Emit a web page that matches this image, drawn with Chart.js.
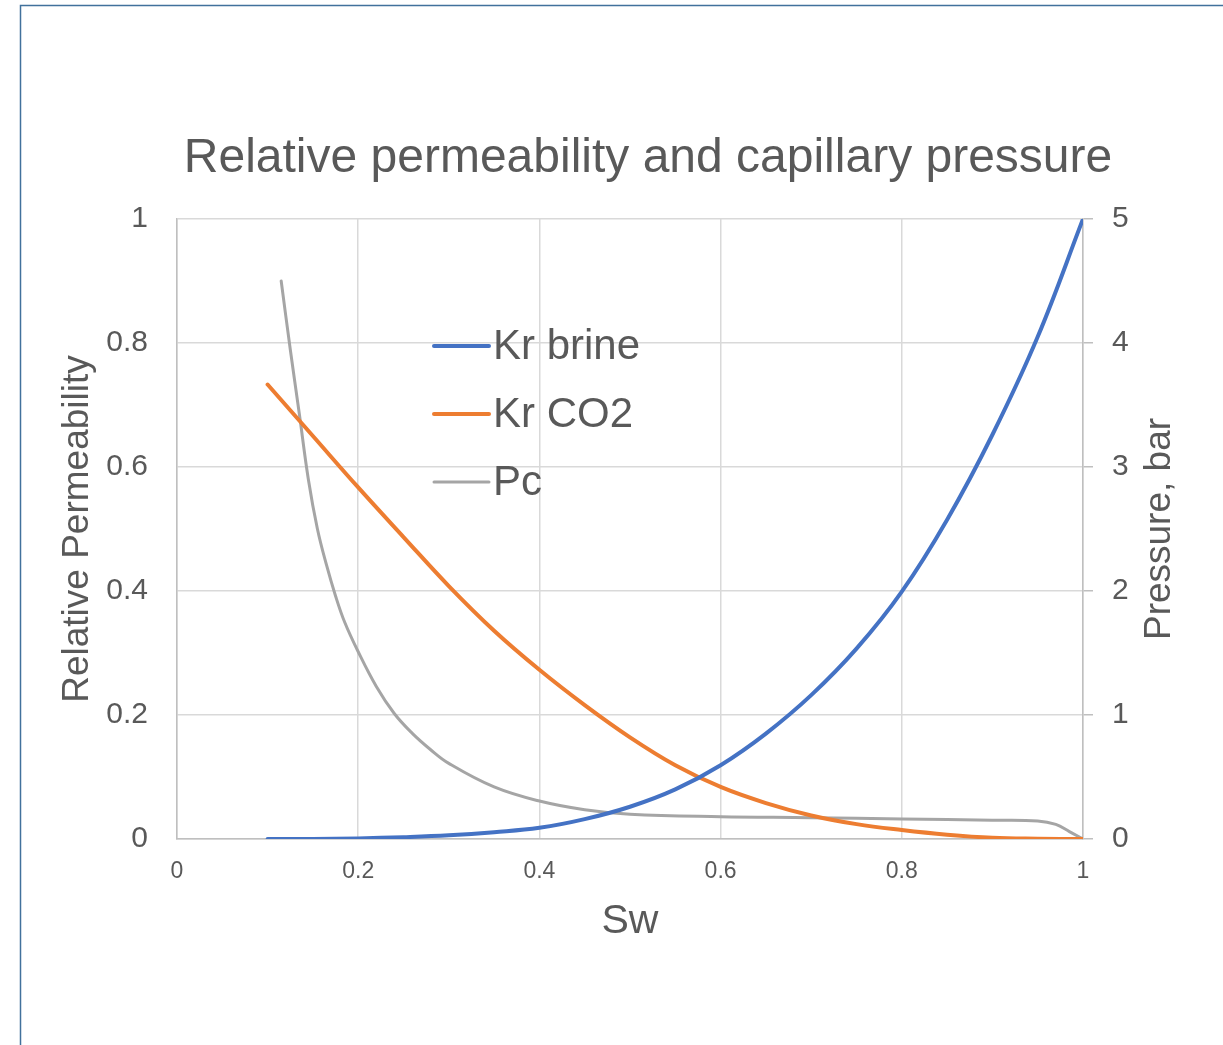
<!DOCTYPE html>
<html>
<head>
    <title>Relative permeability and capillary pressure</title>
    <script src="https://cdn.jsdelivr.net/npm/chart.js@4.4.0/dist/chart.umd.min.js"></script>
    <style>body { margin: 0; background: #fff; }</style>
</head>
<body>
    <canvas id="myChart" width="1223" height="1045"></canvas>
    <script>
        // saturation points for the two Kr curves
        var swKr = [0.1, 0.15, 0.2, 0.25, 0.3, 0.35, 0.4, 0.45, 0.5, 0.55, 0.6, 0.65, 0.7, 0.75, 0.8, 0.85, 0.9, 0.95, 1.0];
        var krBrine = [0, 0.0001, 0.001, 0.003, 0.006, 0.011, 0.018, 0.032, 0.052, 0.08, 0.119, 0.17, 0.232, 0.307, 0.399, 0.515, 0.652, 0.81, 1.0];
        var krCO2 = [0.733, 0.65, 0.567, 0.487, 0.408, 0.336, 0.273, 0.216, 0.164, 0.119, 0.084, 0.058, 0.038, 0.024, 0.0145, 0.007, 0.002, 0.0005, 0];

        // capillary pressure, bar
        var swPc = [0.115, 0.125, 0.135, 0.145, 0.155, 0.165, 0.175, 0.185, 0.2, 0.22, 0.24, 0.26, 0.28, 0.3, 0.35, 0.4, 0.45, 0.5, 0.6, 0.7, 0.8, 0.9, 0.95, 0.97, 0.985, 1.0];
        var pc = [4.5, 3.95, 3.43, 2.9, 2.5, 2.21, 1.96, 1.75, 1.51, 1.23, 1.01, 0.85, 0.72, 0.61, 0.42, 0.306, 0.236, 0.2, 0.18, 0.172, 0.161, 0.152, 0.146, 0.118, 0.06, 0];

        var xTicks = ['0', '0.2', '0.4', '0.6', '0.8', '1'];
        var leftTicks = ['0', '0.2', '0.4', '0.6', '0.8', '1'];
        var rightTicks = ['0', '1', '2', '3', '4', '5'];

        var FONT = '"Liberation Sans", Arial, sans-serif';
        var TEXT = '#595959';
        Chart.defaults.font.family = FONT;
        Chart.defaults.color = TEXT;

        function pts(xs, ys) {
            return xs.map(function(x, i) { return {x: x, y: ys[i]}; });
        }

        // outer frame, title, right axis title and the legend inside the plot
        var extras = {
            id: 'extras',
            beforeDraw: function(chart) {
                var ctx = chart.ctx;
                ctx.save();
                ctx.strokeStyle = '#41719C';
                ctx.lineWidth = 1.5;
                ctx.beginPath();
                ctx.moveTo(20.5, 1045);
                ctx.lineTo(20.5, 5.5);
                ctx.lineTo(1223, 5.5);
                ctx.stroke();
                ctx.restore();
            },
            afterDraw: function(chart) {
                var ctx = chart.ctx;
                var a = chart.chartArea;
                ctx.save();
                ctx.fillStyle = TEXT;
                ctx.textBaseline = 'middle';

                ctx.font = '48px ' + FONT;
                ctx.textAlign = 'center';
                ctx.fillText('Relative permeability and capillary pressure', a.left + 471, a.top - 60);

                ctx.font = '37px ' + FONT;
                ctx.translate(a.right + 77, (a.top + a.bottom) / 2);
                ctx.rotate(-Math.PI / 2);
                ctx.fillText('Pressure, bar', 0, 0);
                ctx.restore();

                ctx.save();
                ctx.font = '42px ' + FONT;
                ctx.textAlign = 'left';
                ctx.textBaseline = 'middle';
                chart.data.datasets.forEach(function(ds, i) {
                    var y = a.top + 127 + i * 68;
                    var x = a.left + 257;
                    ctx.strokeStyle = ds.borderColor;
                    ctx.lineWidth = ds.borderWidth;
                    ctx.lineCap = 'round';
                    ctx.beginPath();
                    ctx.moveTo(x, y);
                    ctx.lineTo(x + 55, y);
                    ctx.stroke();
                    ctx.fillStyle = TEXT;
                    ctx.fillText(ds.label, x + 59, y + 1);
                });
                ctx.restore();
            }
        };

        var chart = new Chart(document.getElementById('myChart'), {
            type: 'line',
            data: {
                datasets: [{
                    label: 'Kr brine',
                    data: pts(swKr, krBrine),
                    borderColor: '#4472C4',
                    borderWidth: 4,
                    yAxisID: 'y'
                }, {
                    label: 'Kr CO2',
                    data: pts(swKr, krCO2),
                    borderColor: '#ED7D31',
                    borderWidth: 4,
                    yAxisID: 'y'
                }, {
                    label: 'Pc',
                    data: pts(swPc, pc),
                    borderColor: '#A5A5A5',
                    borderWidth: 3,
                    yAxisID: 'y1'
                }]
            },
            options: {
                responsive: false,
                animation: false,
                devicePixelRatio: 1,
                layout: {padding: {top: 219, bottom: 86, left: 0, right: 0}},
                elements: {
                    point: {radius: 0},
                    line: {tension: 0.4, borderCapStyle: 'round', borderJoinStyle: 'round', fill: false}
                },
                plugins: {
                    legend: {display: false},
                    title: {display: false},
                    tooltip: {enabled: false}
                },
                scales: {
                    x: {
                        type: 'linear',
                        min: 0, max: 1,
                        ticks: {
                            stepSize: 0.2,
                            padding: 19,
                            font: {size: 23},
                            callback: function(v, i) { return xTicks[i]; }
                        },
                        grid: {color: '#D9D9D9', lineWidth: 1.5, drawTicks: false},
                        border: {color: '#BFBFBF', width: 1.5},
                        title: {display: true, text: 'Sw', font: {size: 41}, padding: {top: 0, bottom: 13}},
                        afterFit: function(s) { s.height = 120; }
                    },
                    y: {
                        position: 'left',
                        min: 0, max: 1,
                        ticks: {
                            stepSize: 0.2,
                            padding: 29,
                            font: {size: 30},
                            callback: function(v, i) { return leftTicks[i]; }
                        },
                        grid: {color: '#D9D9D9', lineWidth: 1.5, drawTicks: false},
                        border: {color: '#BFBFBF', width: 1.5},
                        title: {display: true, text: 'Relative Permeability', font: {size: 37}, padding: {top: 56, bottom: 0}},
                        afterFit: function(s) { s.width = 177; }
                    },
                    y1: {
                        position: 'right',
                        min: 0, max: 5,
                        ticks: {
                            stepSize: 1,
                            padding: 19,
                            font: {size: 30},
                            callback: function(v, i) { return rightTicks[i]; }
                        },
                        grid: {drawOnChartArea: false, color: '#BFBFBF', lineWidth: 1.5, tickLength: 10},
                        border: {color: '#BFBFBF', width: 1.5},
                        afterFit: function(s) { s.width = 140; }
                    }
                }
            },
            plugins: [extras]
        });
    </script>
</body>
</html>
